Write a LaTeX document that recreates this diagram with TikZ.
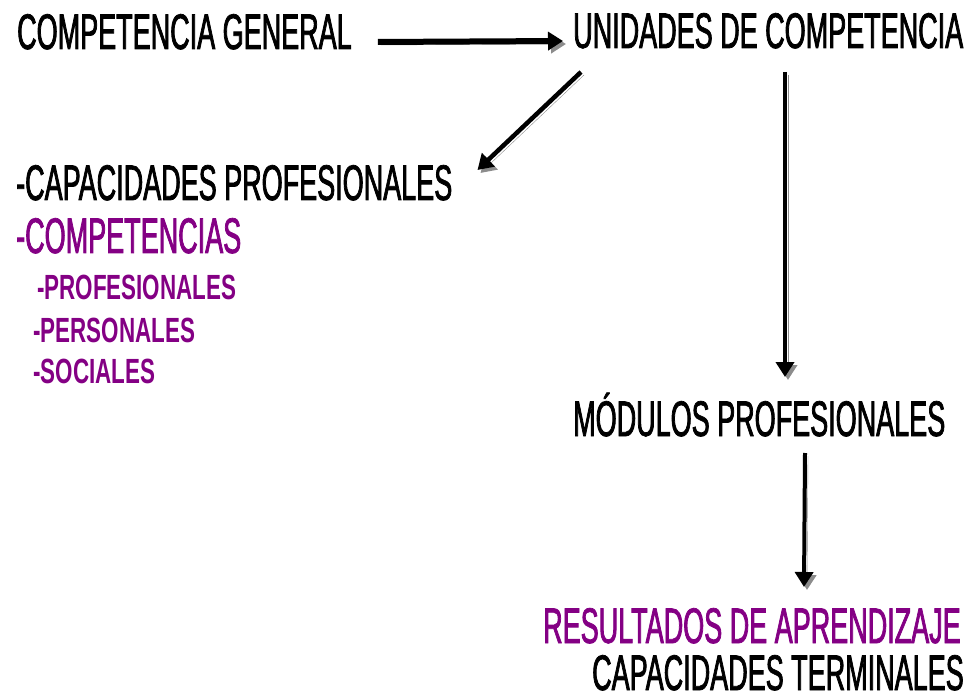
\documentclass[tikz,border=0pt]{standalone}
\usepackage{fontspec}
\usetikzlibrary{arrows.meta}
\newfontfamily\bigf{Liberation Sans}[FakeStretch=0.54,FakeBold=1.5]
\newfontfamily\smallf{Liberation Sans}[FakeStretch=0.64]
\definecolor{pur}{RGB}{132,0,132}
\tikzset{
  big/.style={anchor=base west, inner sep=0pt, font=\bigf\fontsize{50}{50}\selectfont},
  small/.style={anchor=base west, inner sep=0pt, text=pur, font=\smallf\bfseries\fontsize{35}{35}\selectfont},
  arr/.style={line width=#1, -{Triangle[length=15pt,width=18pt]},
    preaction={draw=black!45, transform canvas={xshift=3pt,yshift=-3pt}}},
}
\begin{document}
\begin{tikzpicture}[x=1pt,y=1pt]
\useasboundingbox (0,0) rectangle (976,-700);
\node[big] (cg) at (17,-49) {COMPETENCIA GENERAL};
\node[big] (ud) at (573,-48) {UNIDADES DE COMPETENCIA};
\node[big] (cap) at (16,-200) {-CAPACIDADES PROFESIONALES};
\node[big, text=pur] (comp) at (16,-253) {-COMPETENCIAS};
\node[small] (prof) at (37,-299) {-PROFESIONALES};
\node[small] (pers) at (33,-342) {-PERSONALES};
\node[small] (soc) at (33,-383) {-SOCIALES};
\node[big] (mod) at (573,-436) {MÓDULOS PROFESIONALES};
\node[big, text=pur] (res) at (543,-643) {RESULTADOS DE APRENDIZAJE};
\node[big] (ct) at (592,-690) {CAPACIDADES TERMINALES};
\draw[arr=6pt] ([shift={(26,7)}]cg.base east) -- ([shift={(-10,7)}]ud.base west);
\draw[arr=4.5pt] ([shift={(8,-24)}]ud.base west) -- ([shift={(25,30)}]cap.base east);
\draw[arr=4pt] ([shift={(212,-24)}]ud.base west) -- ([shift={(212,59)}]mod.base west);
\draw[arr=4pt] ([shift={(232,-17)}]mod.base west) -- ([shift={(261,56)}]res.base west);
\end{tikzpicture}
\end{document}
